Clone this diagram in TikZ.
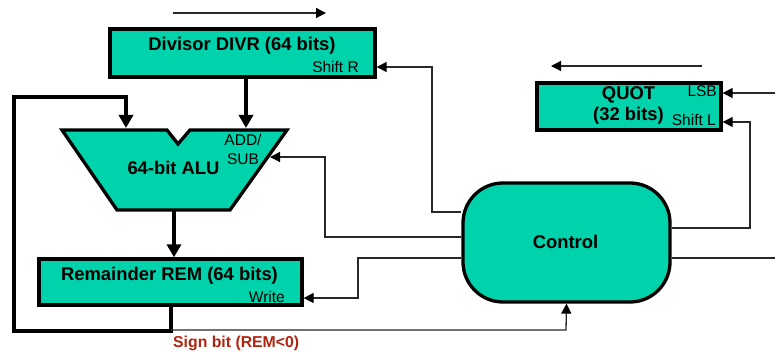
\documentclass[tikz,border=0pt]{standalone}
\usepackage{fontspec}
\setmainfont{Liberation Sans}
\usetikzlibrary{arrows.meta}
\definecolor{teal}{RGB}{0,210,172}
\definecolor{signred}{RGB}{176,36,18}
\definecolor{wire}{RGB}{40,40,40}
\begin{document}
\begin{tikzpicture}[x=1pt,y=-1pt,
  reg/.style={draw=black,line width=3.3pt,fill=teal,rectangle,inner sep=0pt},
  boldtxt/.style={font=\fontsize{18.4}{20}\selectfont\bfseries,inner sep=0pt},
  small/.style={font=\fontsize{15.5}{17}\selectfont,inner sep=0pt},
  thick wire/.style={line width=3.3pt,draw=black},
  thin wire/.style={line width=1.3pt,draw=wire},
  bigtip/.style={-{Triangle[length=13pt,width=14pt]}},
  smalltip/.style={-{Triangle[length=10pt,width=10pt,fill=black,color=black]}}]
\useasboundingbox (0,0) rectangle (775,352);

% registers
\node[reg,minimum width=265pt,minimum height=48pt] (divr) at (242.5,53) {};
\node[boldtxt,anchor=base] (divrt) at (242,51) {Divisor DIVR (64 bits)};
\node[small,anchor=base east] (shr) at (359,73) {Shift R};

\node[reg,minimum width=263pt,minimum height=46pt] (rem) at (170.5,282) {};
\node[boldtxt,anchor=base] (remt) at (169.5,280) {Remainder REM (64 bits)};
\node[small,anchor=base east] (wr) at (285,302) {Write};

\node[reg,minimum width=184pt,minimum height=47pt] (quot) at (629,106.5) {};
\node[boldtxt,anchor=base] (quott) at (628.5,100) {QUOT};
\node[boldtxt,anchor=base] (quotb) at (628.5,121) {(32 bits)};
\node[small,anchor=base east] (lsb) at (717,97) {LSB};
\node[small,anchor=base east] (shl) at (716,126) {Shift L};

\node[reg,rounded corners=40pt,minimum width=207pt,minimum height=119pt] (ctrl) at (566.5,242.5) {};
\node[boldtxt,anchor=base] (ctrlt) at (565.5,248) {Control};

% ALU
\draw[line width=3.3pt,fill=teal,line join=miter]
  (62,130) -- (167,130) -- (178,144) -- (190,130) -- (287,130) -- (230,210) -- (117,210) -- cycle;
\node[boldtxt,anchor=base] (alu) at (173.5,175) {64-bit ALU};
\node[small,anchor=base] (add) at (243,146) {ADD/};
\node[small,anchor=base] (sub) at (243,165) {SUB};

% thick data paths
\coordinate (alutopr) at (246,128);
\coordinate (alutopl) at (126,128);
\coordinate (alubot) at (174,210);
\draw[thick wire,bigtip] (divr.south -| alutopr) -- (alutopr);
\draw[thick wire,bigtip] (alubot) -- (rem.north -| alubot);
\draw[thick wire,bigtip,line join=miter] (rem.south -| 171,0) -- (171,331) -- (14,331) -- (14,97) -- (126,97) -- (alutopl);

% control wires
\coordinate (subin) at (270,157);
\draw[thin wire,smalltip] (ctrl.west |- 0,212) -- (432,212) -- (432,67) -- (divr.east |- 0,67);
\draw[thin wire,smalltip] (ctrl.west |- 0,237) -- (325,237) -- (325,157) -- (subin);
\draw[thin wire,smalltip] (ctrl.west |- 0,258) -- (358,258) -- (358,298) -- (rem.east |- 0,298);
\draw[thin wire,smalltip] (171,330) -- (566,330) -- (ctrl.south);
\draw[thin wire,smalltip] (ctrl.east |- 0,228) -- (750,228) -- (750,122) -- (quot.east |- 0,122);
\coordinate (outr) at (775,258);
\draw[thin wire] (ctrl.east |- outr) -- (outr);
\coordinate (lsbin) at (775,93);
\draw[thin wire,smalltip] (lsbin) -- (quot.east |- lsbin);

% shift direction arrows
\coordinate (d1) at (173,13);
\coordinate (d2) at (326,13);
\draw[thin wire,smalltip] (d1) -- (d2);
\coordinate (q1) at (702,66);
\coordinate (q2) at (551,66);
\draw[thin wire,smalltip] (q1) -- (q2);

\node[font=\fontsize{15.8}{17}\selectfont\bfseries,text=signred,anchor=base west,inner sep=0pt] (sign) at (173,347) {Sign bit (REM<0)};
\end{tikzpicture}
\end{document}
